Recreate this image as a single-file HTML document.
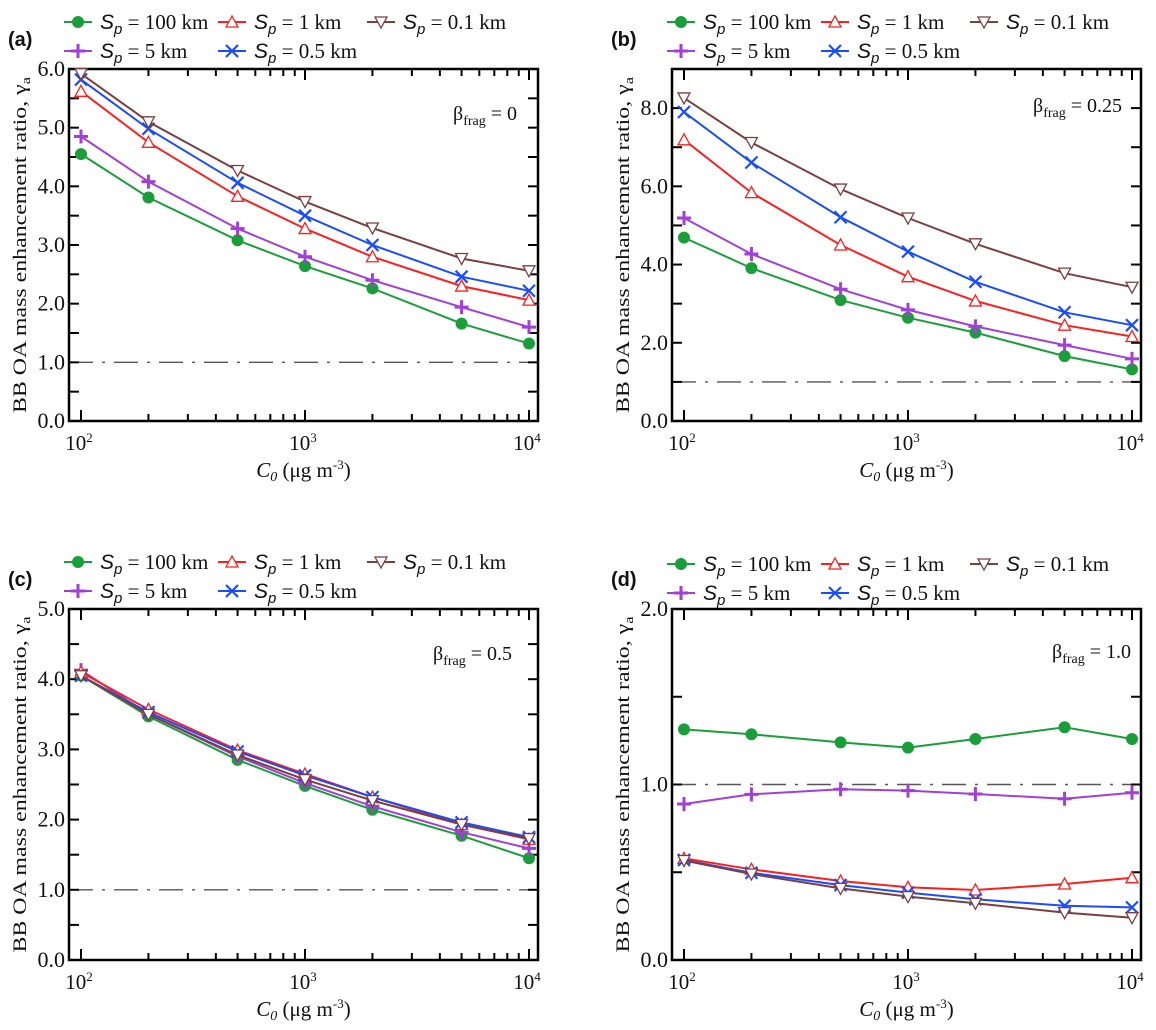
<!DOCTYPE html>
<html><head><meta charset="utf-8">
<style>
html,body{margin:0;padding:0;background:#fff;}
svg{display:block;}
text{font-family:"Liberation Serif",serif;fill:#111;}
.sans{font-family:"Liberation Sans",sans-serif;}
</style></head>
<body>
<svg id="fig" width="1156" height="1030" viewBox="0 0 1156 1030" xmlns="http://www.w3.org/2000/svg"></svg>
<script>
const xValues = [100, 200, 500, 1000, 2000, 5000, 10000];
const seriesNames = ["100 km", "5 km", "1 km", "0.5 km", "0.1 km"];
const panelLabels = ["(a)", "(b)", "(c)", "(d)"];
const betaLabels = ["0", "0.25", "0.5", "1.0"];
const yMaxes = [6, 9, 5, 2];
const yTickLabelsA = ["0.0","1.0","2.0","3.0","4.0","5.0","6.0"];
const yTickLabelsB = ["0.0","2.0","4.0","6.0","8.0"];
const yTickLabelsC = ["0.0","1.0","2.0","3.0","4.0","5.0"];
const yTickLabelsD = ["0.0","1.0","2.0"];
const xTickLabels = ["2","3","4"];
// panel (a) beta=0
const a100 = [4.55,3.81,3.08,2.64,2.26,1.66,1.32];
const a5   = [4.85,4.08,3.28,2.80,2.40,1.94,1.60];
const a1   = [5.62,4.75,3.83,3.28,2.80,2.30,2.06];
const a05  = [5.82,4.98,4.06,3.50,3.00,2.46,2.22];
const a01  = [5.92,5.10,4.27,3.74,3.29,2.77,2.56];
// panel (b) beta=0.25
const b100 = [4.69,3.91,3.09,2.64,2.26,1.66,1.32];
const b5   = [5.19,4.27,3.37,2.84,2.42,1.94,1.59];
const b1   = [7.19,5.84,4.50,3.69,3.07,2.45,2.16];
const b05  = [7.90,6.61,5.21,4.33,3.56,2.78,2.45];
const b01  = [8.26,7.12,5.93,5.19,4.53,3.78,3.42];
// panel (c) beta=0.5
const c100 = [4.05,3.47,2.85,2.48,2.14,1.77,1.45];
const c5   = [4.13,3.50,2.90,2.52,2.19,1.82,1.59];
const c1   = [4.10,3.57,2.99,2.65,2.32,1.93,1.72];
const c05  = [4.05,3.53,2.97,2.63,2.32,1.96,1.75];
const c01  = [4.05,3.50,2.92,2.57,2.27,1.93,1.73];
// panel (d) beta=1.0
const d100 = [1.314,1.286,1.240,1.210,1.259,1.326,1.259];
const d5   = [0.889,0.944,0.973,0.965,0.946,0.919,0.953];
const d1   = [0.579,0.517,0.450,0.414,0.399,0.433,0.469];
const d05  = [0.570,0.497,0.427,0.384,0.346,0.309,0.300];
const d01  = [0.567,0.490,0.408,0.361,0.323,0.270,0.241];

const panelData = [[a100,a5,a1,a05,a01],[b100,b5,b1,b05,b01],[c100,c5,c1,c05,c01],[d100,d5,d1,d05,d01]];
const panelYLabels = [yTickLabelsA,yTickLabelsB,yTickLabelsC,yTickLabelsD];

const NS = "http://www.w3.org/2000/svg";
const svg = document.getElementById("fig");
const colors = ["#1a9e3a","#a13fd6","#ff1e1e","#1a4cff","#7b3f3f"];
const markers = ["circle","plus","tri","cross","tridown"];

function mk(tag, attrs, parent){
  const e = document.createElementNS(NS, tag);
  for (const k in attrs) e.setAttribute(k, attrs[k]);
  (parent||svg).appendChild(e);
  return e;
}

function drawMarker(g, type, x, y, c){
  let m;
  if (type==="circle") m = mk("circle",{cx:x,cy:y,r:5.5,fill:c,stroke:c,"stroke-width":1},g);
  else if (type==="tri") m = mk("polygon",{points:`${x},${y-6} ${x-6},${y+5} ${x+6},${y+5}`,fill:"#fff",stroke:c,"stroke-width":1.3},g);
  else if (type==="tridown") m = mk("polygon",{points:`${x},${y+6} ${x-6},${y-5} ${x+6},${y-5}`,fill:"#fff",stroke:c,"stroke-width":1.3},g);
  else if (type==="plus") m = mk("path",{d:`M${x-7},${y}H${x+7}M${x},${y-7}V${y+7}`,stroke:c,"stroke-width":3,fill:"none"},g);
  else m = mk("path",{d:`M${x-6},${y-6}L${x+6},${y+6}M${x-6},${y+6}L${x+6},${y-6}`,stroke:c,"stroke-width":2.2,fill:"none"},g);
  
  
}

const offsets = [[0,0],[603,0],[0,540],[603,540]];
const boxTop = [69,69,609,609];
const boxBottom = [421,421,960,960];

for (let p=0;p<4;p++){
  const ox = offsets[p][0];
  const L = 69+ox, R = 538+ox, T = boxTop[p], B = boxBottom[p];
  const ymax = yMaxes[p];
  const g = mk("g",{});
  
  
  const xs = v => (L+12) + (Math.log10(v)-2)/2 * ((R-9)-(L+12));
  const ys = v => B - v/ymax*(B-T);

  const pl = mk("text",{x:8+ox,y:(p<2?46:46+540),"font-size":20,"font-weight":"bold",class:"sans"},g);
  pl.textContent = panelLabels[p];
  
  

  const legX = [64,218,367], legY = [22,51];
  const order = [[0,0,0],[2,1,0],[4,2,0],[1,0,1],[3,1,1]];
  for (const [si,col,row] of order){
    const lx = legX[col]+ox, ly = legY[row] + (p>=2 ? 540+ (p===3?2:0) : 0);
    const lg = mk("g",{},g);
    
    
    mk("line",{x1:lx,y1:ly,x2:lx+28,y2:ly,stroke:colors[si],"stroke-width":2},lg);
    drawMarker(lg, markers[si], lx+14, ly, colors[si]);
    const t = mk("text",{x:lx+36,y:ly+7,"font-size":21},lg);
    t.innerHTML = `<tspan class="sans" font-style="italic">S</tspan><tspan class="sans" font-style="italic" font-size="15" dy="5">p</tspan><tspan dy="-5"> = ${seriesNames[si]}</tspan>`;
  }

  const ref = mk("line",{x1:L,x2:R,y1:ys(1),y2:ys(1),stroke:"#555","stroke-width":1.4,"stroke-dasharray":"24 9 3 9"},g);
  
  

  const box = mk("rect",{x:L,y:T,width:R-L,height:B-T,fill:"none",stroke:"#000","stroke-width":2.5},g);
  
  

  for (let dec=2; dec<=4; dec++){
    for (let m=1; m<=9; m++){
      if (dec===4 && m>1) break;
      const v = m*Math.pow(10,dec); const x = xs(v);
      const len = m===1?11:7;
      mk("line",{x1:x,x2:x,y1:B,y2:B-len,stroke:"#000","stroke-width":2},g);
      mk("line",{x1:x,x2:x,y1:T,y2:T+len,stroke:"#000","stroke-width":2},g);
      if (m===1){
        const t = mk("text",{x:x-2,y:B+29,"font-size":21,"text-anchor":"middle"},g);
        t.innerHTML = `10<tspan font-size="13" dy="-8">${xTickLabels[dec-2]}</tspan>`;
        
        
      }
    }
  }
  const step = p===1 ? 1 : 0.5;
  const labStep = p===1 ? 2 : 1;
  for (let v=0; v<=ymax+1e-9; v+=step){
    const y = ys(v);
    mk("line",{x1:L,x2:L+10,y1:y,y2:y,stroke:"#000","stroke-width":2},g);
    mk("line",{x1:R,x2:R-10,y1:y,y2:y,stroke:"#000","stroke-width":2},g);
  }
  const labs = panelYLabels[p];
  for (let i=0;i<labs.length;i++){
    const v = i*labStep;
    const t = mk("text",{x:L-4,y:ys(v)+7,"font-size":22,"text-anchor":"end"},g);
    t.textContent = labs[i];
    
    
  }
  const yt = mk("text",{x:0,y:0,"font-size":19,"text-anchor":"middle",transform:`translate(${26+ox},${(T+B)/2}) rotate(-90)`,textLength:336,lengthAdjust:"spacingAndGlyphs"},g);
  yt.innerHTML = `BB OA mass enhancement ratio, γ<tspan font-size="13" dy="4">a</tspan>`;
  
  
  const xt = mk("text",{x:(L+R)/2,y:B+56,"font-size":21,"text-anchor":"middle"},g);
  xt.innerHTML = `<tspan font-style="italic">C</tspan><tspan font-style="italic" font-size="14" dy="4">0</tspan><tspan dy="-4"> (μg m</tspan><tspan font-size="13" dy="-8">-3</tspan><tspan dy="8">)</tspan>`;
  
  

  const bx = [453,430,433,1052-603][p]+ox;
  const by = [120,112,120,118][p] + (p>=2?540:0);
  const bt = mk("text",{x:bx,y:by,"font-size":20},g);
  bt.innerHTML = `β<tspan font-size="14" dy="5">frag</tspan><tspan dy="-5"> = ${betaLabels[p]}</tspan>`;
  
  

  const data = panelData[p];
  for (let s=0;s<data.length;s++){
    const sg = mk("g",{},g);
    
    
    const pts = data[s].map((v,i)=>`${xs(xValues[i]).toFixed(1)},${ys(v).toFixed(1)}`).join(" ");
    const ln = mk("polyline",{points:pts,fill:"none",stroke:colors[s],"stroke-width":2},sg);
    
    
    data[s].forEach((v,i)=>drawMarker(sg, markers[s], xs(xValues[i]), ys(v), colors[s]));
  }
}
</script>
</body></html>
